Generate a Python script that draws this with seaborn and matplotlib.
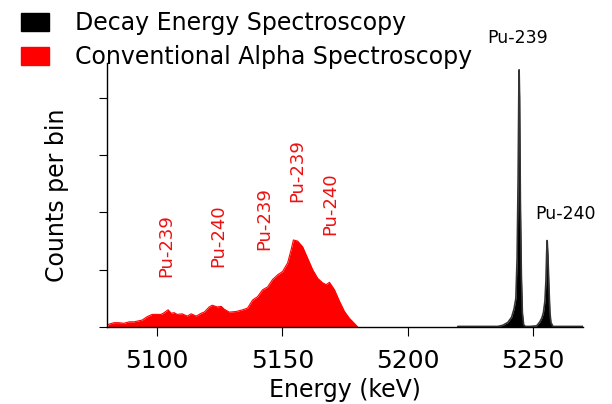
import matplotlib
matplotlib.use("Agg")
import matplotlib.pyplot as plt
import seaborn as sns
import pandas as pd
from matplotlib.patches import Patch

# ---- data ----
red_energy = [5080.3, 5080.8, 5082.8, 5084.8, 5086.8, 5088.8, 5090.8, 5092.8, 5094.0, 5096.0,
              5098.0, 5100.0, 5101.6, 5102.8, 5104.4, 5105.6, 5106.8, 5108.0, 5110.0, 5112.0,
              5113.6, 5115.6, 5117.6, 5118.8, 5120.8, 5122.0, 5124.0, 5125.6, 5126.8, 5128.8,
              5131.5, 5134.1, 5136.1, 5138.1, 5140.1, 5142.1, 5144.1, 5146.1, 5148.1, 5150.1,
              5152.1, 5153.5, 5154.4, 5156.1, 5158.1, 5160.1, 5162.1, 5164.1, 5166.1, 5167.5,
              5168.8, 5170.8, 5172.8, 5174.8, 5176.8, 5178.8, 5180.1]
red_counts = [0.03, 0.05, 0.075, 0.075, 0.065, 0.09, 0.09, 0.11, 0.12, 0.18,
              0.22, 0.22, 0.22, 0.25, 0.30, 0.24, 0.25, 0.22, 0.23, 0.19,
              0.23, 0.19, 0.24, 0.26, 0.35, 0.38, 0.35, 0.36, 0.31, 0.26,
              0.27, 0.30, 0.33, 0.47, 0.53, 0.65, 0.70, 0.83, 0.91, 0.97,
              1.12, 1.35, 1.52, 1.50, 1.40, 1.20, 1.00, 0.85, 0.77, 0.74,
              0.78, 0.65, 0.45, 0.27, 0.15, 0.06, 0.0]

black_energy = [5220.0, 5236.0, 5238.0, 5240.0, 5241.5, 5242.5, 5243.2, 5243.7, 5244.1, 5244.4,
                5244.5, 5244.7, 5245.0, 5245.4, 5245.8, 5246.3, 5247.0, 5249.0, 5251.5, 5252.8,
                5253.6, 5254.2, 5254.8, 5255.2, 5255.5, 5255.7, 5256.0, 5256.4, 5256.8, 5257.2,
                5258.0, 5270.0]
black_counts = [0.01, 0.01, 0.03, 0.08, 0.17, 0.32, 0.50, 1.20, 2.60, 4.20,
                4.49, 4.00, 2.20, 0.90, 0.25, 0.04, 0.01, 0.01, 0.02, 0.09,
                0.16, 0.25, 0.45, 0.80, 1.30, 1.51, 1.25, 0.70, 0.25, 0.08,
                0.01, 0.01]

red_labels = ["Pu-239", "Pu-240", "Pu-239", "Pu-239", "Pu-240"]
red_label_x = [5103.6, 5124.4, 5142.8, 5156.0, 5169.2]
red_label_y = [0.88, 1.05, 1.35, 2.19, 1.61]

black_labels = ["Pu-239", "Pu-240"]
black_label_x = [5244.0, 5263.0]
black_label_y = [5.04, 1.98]

x_ticks = [5100, 5150, 5200, 5250]
y_ticks = [0, 1, 2, 3, 4]
legend_labels = ["Decay Energy Spectroscopy", "Conventional Alpha Spectroscopy"]

# ---- plot ----
sns.set_theme(style="ticks")
plt.rcParams["font.family"] = ["DejaVu Sans"]
plt.rcParams["text.color"] = "black"
plt.rcParams["axes.labelcolor"] = "black"
plt.rcParams["xtick.color"] = "black"
plt.rcParams["ytick.color"] = "black"

fig = plt.figure(figsize=(6.12, 4.04), dpi=100)
ax = fig.add_axes([107/612, 1-327/404, (583-107)/612, (327-63)/404])

red_df = pd.DataFrame({"energy": red_energy, "counts": red_counts})
black_df = pd.DataFrame({"energy": black_energy, "counts": black_counts})

ax.fill_between(red_df["energy"], 0, red_df["counts"], color="#ff0000", linewidth=0)
sns.lineplot(data=red_df, x="energy", y="counts", ax=ax, color="#ff0000", linewidth=0.8)

ax.fill_between(black_df["energy"], 0, black_df["counts"], color="black", linewidth=0)
sns.lineplot(data=black_df, x="energy", y="counts", ax=ax, color="#333333", linewidth=1.2)

for t, x, y in zip(red_labels, red_label_x, red_label_y):
    ax.text(x, y, t, color="#ee1111", fontsize=13, rotation=90, ha="center", va="bottom")
for t, x, y in zip(black_labels, black_label_x, black_label_y):
    ax.text(x, y, t, color="black", fontsize=12.5, ha="center", va="center", clip_on=False)

ax.set_xlim(5080, 5270)
ax.set_ylim(0, 4.61)
ax.set_xticks(x_ticks)
ax.set_xticklabels([str(v) for v in x_ticks], fontsize=18)
ax.set_yticks(y_ticks)
ax.set_yticklabels([])
ax.tick_params(axis="x", direction="out", length=6.5, width=0.8, color="black", pad=9,
               labelcolor="black")
ax.tick_params(axis="y", direction="out", length=5.8, width=0.8, color="black")
ax.set_xlabel("Energy (keV)", fontsize=17, labelpad=4, color="black")
ax.set_ylabel("Counts per bin", fontsize=17, labelpad=18, color="black")
for s in ["top", "right"]:
    ax.spines[s].set_visible(False)
for s in ["left", "bottom"]:
    ax.spines[s].set_color("black")
    ax.spines[s].set_linewidth(1.0)

handles = [Patch(facecolor="black", edgecolor="black"),
           Patch(facecolor="#ff0000", edgecolor="#ff0000")]
leg = fig.legend(handles, legend_labels, loc="upper left", bbox_to_anchor=(21/612, 1-11/404),
                 frameon=False, fontsize=17, handlelength=1.2, handleheight=0.8,
                 handletextpad=1.1, labelspacing=0.42, borderpad=0, borderaxespad=0)
for t in leg.get_texts():
    t.set_color("black")

fig.savefig("out.png", dpi=100, facecolor="white")
